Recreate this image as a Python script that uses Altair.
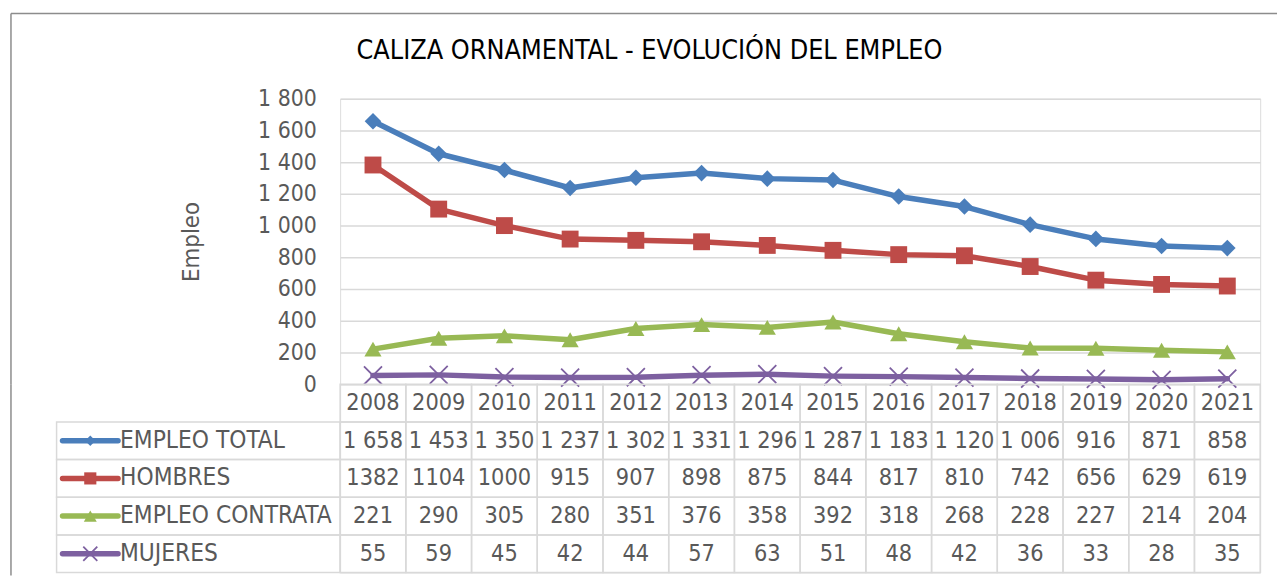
import altair as alt
import pandas as pd

# ---------------- data ----------------
years = ["2008", "2009", "2010", "2011", "2012", "2013", "2014",
         "2015", "2016", "2017", "2018", "2019", "2020", "2021"]
series = ["EMPLEO TOTAL", "HOMBRES", "EMPLEO CONTRATA", "MUJERES"]
empleo_total = [1658, 1453, 1350, 1237, 1302, 1331, 1296, 1287, 1183, 1120, 1006, 916, 871, 858]
hombres = [1382, 1104, 1000, 915, 907, 898, 875, 844, 817, 810, 742, 656, 629, 619]
empleo_contrata = [221, 290, 305, 280, 351, 376, 358, 392, 318, 268, 228, 227, 214, 204]
mujeres = [55, 59, 45, 42, 44, 57, 63, 51, 48, 42, 36, 33, 28, 35]
y_ticks = [0, 200, 400, 600, 800, 1000, 1200, 1400, 1600, 1800]
title_text = "CALIZA ORNAMENTAL - EVOLUCIÓN DEL EMPLEO"

# ---------------- styles ----------------
FONT = "DejaVu Sans Condensed, Liberation Sans, sans-serif"
colors = ["#4A7EBB", "#BE4B48", "#98B954", "#7D60A0"]
X_PATH = "M-1,-1L1,1M-1,1L1,-1"
shapes = ["diamond", "square", "triangle-up", X_PATH]
sizes = [280, 290, 300, 330]
key_sizes = [110, 150, 170, 200]
filled = [True, True, True, False]
GRID = "#d9d9d9"
TXT = "#595959"
BORDER = "#8c8c8c"
PLOT_W = 928
PLOT_H = 288
ROW_H = 38
LINE_W = 5.5

values_all = [empleo_total, hombres, empleo_contrata, mujeres]
long = pd.DataFrame([
    {"year": y, "series": s, "value": v}
    for s, vals in zip(series, values_all)
    for y, v in zip(years, vals)
])
one = pd.DataFrame({"k": [0]})

# ---------------- top chart ----------------
xpos = alt.X("year:O", sort=years, scale=alt.Scale(type="point", padding=0.5), axis=None)
yaxis = alt.Axis(
    values=y_ticks, title="Empleo", grid=True, gridColor=GRID, gridWidth=1.5,
    domain=False, ticks=False, labelFontSize=23, labelColor=TXT, labelPadding=24,
    labelOverlap=False, labelFlush=False,
    labelExpr="replace(format(datum.value, ','), ',', ' ')",
    titleFontSize=24, titleFontWeight="normal", titleColor=TXT, titlePadding=55,
)
ypos = alt.Y("value:Q", scale=alt.Scale(domain=[0, 1800], nice=False), axis=yaxis)
color = alt.Color("series:N", scale=alt.Scale(domain=series, range=colors), legend=None)

lines = alt.Chart(long).mark_line(strokeWidth=LINE_W, strokeJoin="round", strokeCap="round").encode(
    x=xpos, y=ypos, color=color
)
layers = [lines]
for s, c, sh, sz, f in zip(series, colors, shapes, sizes, filled):
    layers.append(
        alt.Chart(long).transform_filter(alt.datum.series == s).mark_point(
            shape=sh, size=sz, color=c, filled=f, opacity=1,
            strokeWidth=1 if f else 1.8,
        ).encode(x=xpos, y=ypos)
    )

title_mark = alt.Chart(one).mark_text(
    fontSize=27, color="#000000", font=FONT, baseline="alphabetic"
).encode(x=alt.value(312), y=alt.value(-40), text=alt.value(title_text))
top_border = alt.Chart(one).mark_rule(color=BORDER, strokeWidth=1.5).encode(
    x=alt.value(-332), x2=alt.value(945), y=alt.value(-86)
)
left_border_top = alt.Chart(one).mark_rule(color=BORDER, strokeWidth=1.5).encode(
    x=alt.value(-332), y=alt.value(-86), y2=alt.value(PLOT_H)
)

top = alt.layer(*layers, title_mark, top_border, left_border_top).properties(
    width=PLOT_W, height=PLOT_H
)

# ---------------- data table ----------------
HDR = "_hdr"
rows = [HDR] + series
cells = []
for y in years:
    cells.append({"year": y, "row": HDR, "text": y})
for s, vals in zip(series, values_all):
    for y, v in zip(years, vals):
        if s == "EMPLEO TOTAL":
            t = f"{v:,}".replace(",", " ")
        else:
            t = str(v)
        cells.append({"year": y, "row": s, "text": t})
cells = pd.DataFrame(cells)
labels = pd.DataFrame({"row": series})

tx = alt.X("year:O", sort=years, scale=alt.Scale(type="band", paddingInner=0, paddingOuter=0), axis=None)
ty = alt.Y("row:N", sort=rows, scale=alt.Scale(domain=rows, paddingInner=0, paddingOuter=0), axis=None)

cell_rect = alt.Chart(cells).mark_rect(filled=False, color=GRID, strokeWidth=1.5).encode(x=tx, y=ty)
cell_text = alt.Chart(cells).mark_text(fontSize=23.5, color=TXT, font=FONT).encode(
    x=tx, y=ty, text="text:N"
)
lab_rect = alt.Chart(labels).mark_rect(filled=False, color=GRID, strokeWidth=1.5).encode(
    x=alt.value(-286), x2=alt.value(0), y=ty
)
lab_text = alt.Chart(labels).mark_text(fontSize=24.5, color=TXT, align="left", font=FONT).encode(
    x=alt.value(-222), y=ty, text="row:N"
)
tlayers = [cell_rect, lab_rect, cell_text, lab_text]
for s, c, sh, sz, f in zip(series, colors, shapes, key_sizes, filled):
    sub = labels[labels["row"] == s]
    tlayers.append(
        alt.Chart(sub).mark_rule(color=c, strokeWidth=LINE_W, strokeCap="round").encode(
            x=alt.value(-280), x2=alt.value(-224), y=ty
        )
    )
    tlayers.append(
        alt.Chart(sub).mark_point(shape=sh, size=sz, color=c, filled=f, opacity=1,
                                  strokeWidth=1 if f else 1.8).encode(
            x=alt.value(-252), y=ty
        )
    )
left_border_tbl = alt.Chart(one).mark_rule(color=BORDER, strokeWidth=1.5).encode(
    x=alt.value(-332), y=alt.value(0), y2=alt.value(193)
)
tlayers.append(left_border_tbl)

table = alt.layer(*tlayers).properties(width=PLOT_W, height=ROW_H * 5)

chart = alt.vconcat(top, table, spacing=0, bounds="flush").properties(
    padding={"left": 1, "top": 1, "right": 0, "bottom": 0}
).configure_view(stroke=None).configure(font=FONT)

chart.save("out.html", embed_options={"renderer": "svg", "actions": False})
